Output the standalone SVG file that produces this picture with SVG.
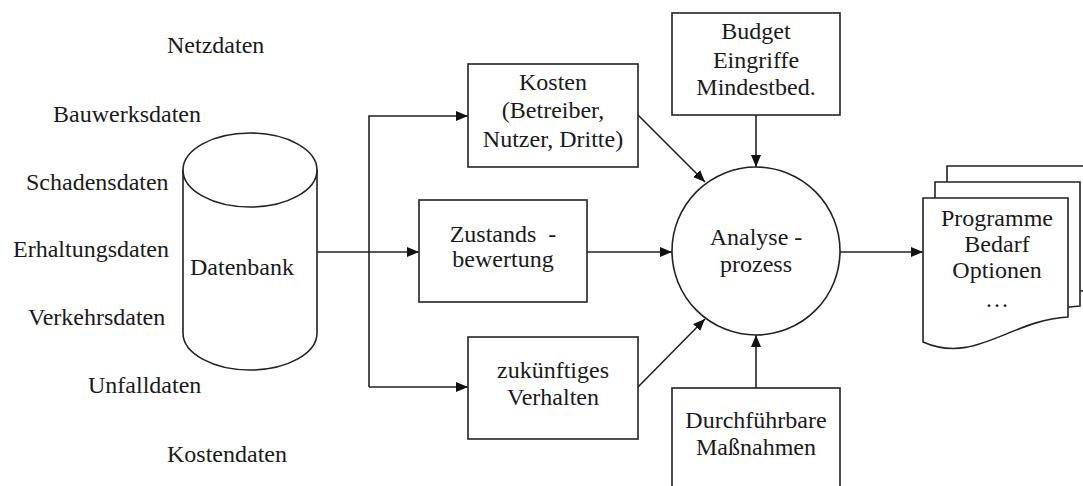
<svg xmlns="http://www.w3.org/2000/svg" width="1083" height="486" viewBox="0 0 1083 486">
  <style>
    text { font-family: "Liberation Serif", "Times New Roman", serif; font-size: 24px; fill: #1a1a1a; }
    .c { text-anchor: middle; }
    .shape { fill: #ffffff; stroke: #222222; stroke-width: 1.6; }
    .line { fill: none; stroke: #222222; stroke-width: 1.6; }
  </style>
  <defs>
    <marker id="arrow" viewBox="0 0 12 10" refX="12" refY="5" markerWidth="12" markerHeight="10" markerUnits="userSpaceOnUse" orient="auto">
      <path d="M0,0 L12,5 L0,10 Z" fill="#111111"/>
    </marker>
  </defs>
  <rect width="1083" height="486" fill="#ffffff"/>

  <!-- data sources -->
  <g id="sources">
    <text x="167" y="53">Netzdaten</text>
    <text x="53" y="122">Bauwerksdaten</text>
    <text x="26" y="190">Schadensdaten</text>
    <text x="13" y="257">Erhaltungsdaten</text>
    <text x="28" y="325">Verkehrsdaten</text>
    <text x="88" y="393">Unfalldaten</text>
    <text x="167" y="462">Kostendaten</text>
  </g>

  <!-- database cylinder -->
  <g id="datenbank">
    <path class="shape" d="M183,170 V333 A67,37 0 0 0 317,333 V170 Z"/>
    <ellipse class="shape" cx="250" cy="170" rx="67" ry="37"/>
    <text x="190" y="275">Datenbank</text>
  </g>

  <!-- connectors -->
  <g id="connectors">
    <path class="line" d="M317,252 H419" marker-end="url(#arrow)"/>
    <path class="line" d="M369,387 V116 H468" marker-end="url(#arrow)"/>
    <path class="line" d="M369,387 H468" marker-end="url(#arrow)"/>
    <path class="line" d="M638,115 L705,182" marker-end="url(#arrow)"/>
    <path class="line" d="M587,252 H672" marker-end="url(#arrow)"/>
    <path class="line" d="M638,387 L705,319" marker-end="url(#arrow)"/>
    <path class="line" d="M756,115 V167" marker-end="url(#arrow)"/>
    <path class="line" d="M756,388 V335" marker-end="url(#arrow)"/>
    <path class="line" d="M840,252 H923" marker-end="url(#arrow)"/>
  </g>

  <g id="kosten">
    <rect class="shape" x="468" y="64" width="170" height="103"/>
    <text class="c" x="553" y="90">Kosten</text>
    <text class="c" x="553" y="118">(Betreiber,</text>
    <text class="c" x="553" y="147">Nutzer, Dritte)</text>
  </g>

  <g id="zustand">
    <rect class="shape" x="419" y="200" width="168" height="102"/>
    <text class="c" x="503" y="242" xml:space="preserve">Zustands  -</text>
    <text class="c" x="503" y="267">bewertung</text>
  </g>

  <g id="verhalten">
    <rect class="shape" x="468" y="337" width="170" height="102"/>
    <text class="c" x="553" y="378">zukünftiges</text>
    <text class="c" x="553" y="405">Verhalten</text>
  </g>

  <g id="budget">
    <rect class="shape" x="672" y="13" width="168" height="102"/>
    <text class="c" x="756" y="39">Budget</text>
    <text class="c" x="756" y="68">Eingriffe</text>
    <text class="c" x="756" y="95">Mindestbed.</text>
  </g>

  <g id="analyse">
    <circle class="shape" cx="756" cy="251" r="84"/>
    <text class="c" x="756" y="245">Analyse -</text>
    <text class="c" x="756" y="272">prozess</text>
  </g>

  <g id="massnahmen">
    <rect class="shape" x="672" y="388" width="168" height="120"/>
    <text class="c" x="756" y="428">Durchführbare</text>
    <text class="c" x="756" y="455">Maßnahmen</text>
  </g>

  <!-- stacked output documents -->
  <g id="ergebnis">
    <path class="shape" d="M947,166 H1095 V290 C1040,292 1010,310 990,320 L947,320 Z"/>
    <path class="shape" d="M935,182 H1080 V306 C1030,309 1000,330 975,335 L935,335 Z"/>
    <path class="shape" d="M923,198 H1068 V317 C1010,320 975,365 923,342 Z"/>
    <text class="c" x="997" y="226">Programme</text>
    <text class="c" x="997" y="252">Bedarf</text>
    <text class="c" x="997" y="278">Optionen</text>
    <text class="c" x="997" y="307">…</text>
  </g>
</svg>
